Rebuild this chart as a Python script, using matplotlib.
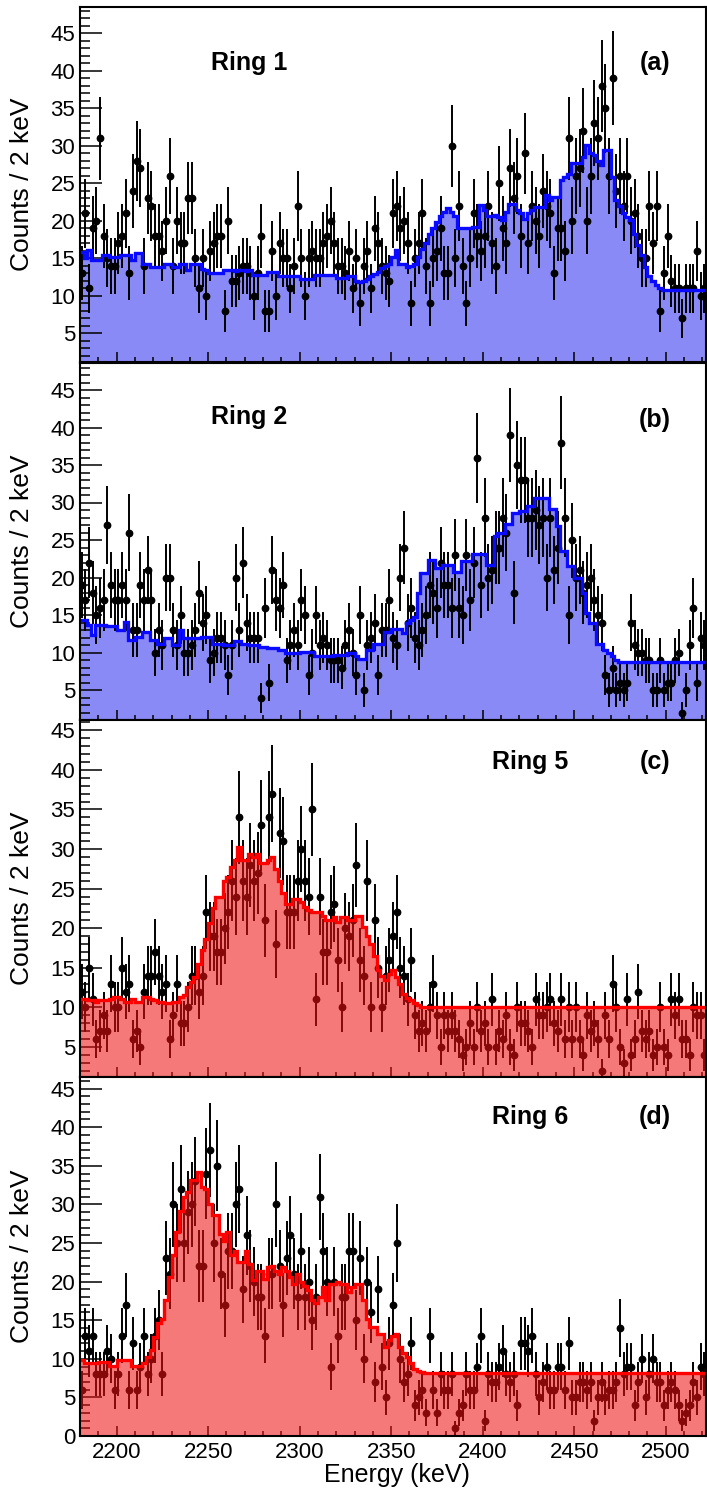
import numpy as np
import matplotlib
matplotlib.use("Agg")
import matplotlib.pyplot as plt
from matplotlib.ticker import MultipleLocator

plt.rcParams['font.family'] = ['Liberation Sans', 'DejaVu Sans']

# 2 keV bins from 2180 keV
edges = np.arange(2180, 2524, 2)
centers = edges[:-1] + 1

ring1_counts = [
    13, 21, 11, 19, 20, 31, 18, 15, 14, 14,
    17, 18, 21, 13, 24, 28, 27, 14, 23, 22,
    18, 18, 16, 20, 26, 14, 20, 17, 17, 23,
    23, 15, 11, 15, 10, 16, 17, 18, 18, 8,
    20, 12, 12, 13, 14, 14, 13, 10, 13, 18,
    8, 8, 16, 10, 17, 15, 15, 11, 14, 22,
    15, 10, 15, 16, 15, 15, 17, 18, 20, 17,
    14, 14, 13, 16, 11, 15, 9, 14, 16, 11,
    19, 17, 14, 13, 12, 21, 22, 19, 20, 17,
    9, 15, 17, 21, 14, 9, 15, 16, 19, 13,
    13, 30, 15, 22, 14, 9, 15, 21, 18, 16,
    18, 22, 17, 14, 25, 19, 17, 27, 23, 26,
    18, 29, 17, 22, 20, 18, 24, 22, 21, 13,
    19, 19, 16, 31, 20, 26, 27, 32, 20, 26,
    33, 31, 38, 35, 26, 39, 24, 26, 22, 26,
    20, 21, 18, 15, 15, 22, 17, 22, 8, 13,
    18, 12, 11, 11, 7, 11, 11, 11, 16, 10, 11]
ring1_fit = [
    15.9, 15.0, 16.1, 14.8, 14.8, 14.8, 15.4, 15.4, 15.2, 15.2,
    15.2, 15.4, 15.4, 15.4, 14.8, 15.7, 15.7, 14.3, 14.3, 13.9,
    13.9, 13.9, 13.9, 14.3, 14.3, 13.9, 13.9, 14.3, 14.3, 13.4,
    14.3, 14.3, 14.3, 13.6, 13.4, 13.0, 13.0, 13.0, 13.0, 13.4,
    13.4, 13.4, 13.3, 13.4, 13.4, 13.3, 13.4, 12.8, 12.8, 12.8,
    12.8, 13.2, 13.2, 13.2, 12.6, 12.6, 12.6, 12.6, 12.6, 12.6,
    12.3, 12.3, 12.3, 12.3, 12.8, 12.8, 12.8, 12.8, 12.8, 12.8,
    12.4, 12.4, 12.4, 12.6, 12.6, 12.0, 11.9, 12.0, 12.2, 12.6,
    12.9, 13.2, 13.7, 14.0, 14.3, 15.2, 16.1, 14.3, 14.3, 13.9,
    14.0, 14.3, 15.2, 16.2, 17.0, 18.3, 19.1, 19.9, 20.6, 21.2,
    21.7, 21.2, 20.6, 19.0, 19.0, 19.0, 19.0, 19.2, 19.2, 22.1,
    21.5, 20.6, 20.6, 20.8, 20.5, 20.1, 21.2, 22.3, 22.3, 21.4,
    21.0, 20.3, 21.0, 21.4, 21.9, 21.9, 21.9, 23.4, 22.8, 23.2,
    23.2, 25.4, 25.8, 26.3, 27.7, 27.7, 27.7, 28.5, 30.1, 29.0,
    28.8, 28.0, 27.4, 29.4, 29.4, 25.9, 22.8, 22.0, 21.0, 20.5,
    20.1, 18.3, 16.8, 15.4, 13.9, 12.6, 12.0, 11.4, 11.0, 10.8,
    10.8, 10.8, 10.8, 10.8, 10.8, 10.8, 10.8, 10.8, 10.8, 10.8, 10.8]

ring2_counts = [
    19, 17, 22, 18, 15, 16, 17, 27, 19, 17,
    17, 19, 17, 26, 13, 13, 19, 17, 21, 17,
    10, 13, 11, 20, 20, 13, 11, 15, 10, 10,
    11, 13, 18, 14, 15, 9, 10, 12, 12, 11,
    7, 11, 20, 13, 22, 14, 12, 12, 12, 4,
    16, 6, 21, 17, 16, 19, 9, 11, 13, 11,
    17, 15, 7, 10, 15, 11, 12, 11, 9, 9,
    9, 8, 11, 13, 10, 7, 15, 5, 11, 12,
    14, 7, 13, 13, 17, 12, 11, 20, 24, 14,
    16, 12, 11, 13, 15, 19, 18, 16, 22, 19,
    19, 16, 23, 16, 15, 23, 17, 22, 36, 19,
    28, 20, 21, 24, 24, 28, 26, 39, 18, 35,
    33, 33, 28, 28, 29, 27, 28, 20, 28, 21,
    24, 38, 28, 15, 25, 20, 21, 18, 19, 20,
    17, 15, 14, 7, 5, 8, 5, 6, 5, 6,
    14, 11, 10, 10, 9, 9, 5, 5, 9, 5,
    6, 6, 9, 10, 2, 5, 11, 16, 6, 12, 11]
ring2_fit = [
    14.4, 14.4, 13.7, 12.4, 13.7, 13.7, 13.7, 13.5, 13.5, 13.5,
    13.0, 13.0, 14.1, 11.7, 11.7, 12.1, 12.1, 12.8, 12.8, 11.7,
    11.7, 11.2, 11.2, 11.9, 11.9, 11.0, 11.0, 13.0, 11.9, 11.9,
    11.9, 11.9, 11.9, 12.1, 12.1, 12.1, 11.2, 11.2, 11.2, 11.0,
    11.0, 11.0, 11.5, 11.5, 11.2, 11.2, 11.0, 11.0, 11.0, 10.8,
    10.8, 10.6, 10.6, 10.6, 10.4, 10.4, 9.9, 9.9, 9.9, 9.9,
    10.1, 10.1, 10.1, 10.1, 9.5, 9.5, 9.5, 9.5, 9.5, 9.7,
    9.7, 9.7, 9.7, 9.9, 9.9, 9.5, 9.2, 9.2, 10.4, 10.4,
    11.2, 11.2, 11.2, 12.8, 12.8, 13.2, 13.2, 13.2, 12.6, 13.9,
    14.3, 14.8, 17.9, 20.6, 20.6, 22.4, 22.4, 21.3, 21.3, 21.7,
    21.7, 21.7, 20.8, 20.8, 22.2, 22.2, 22.2, 23.1, 23.1, 23.1,
    23.1, 21.7, 21.7, 25.5, 26.0, 26.0, 27.1, 27.1, 28.6, 28.6,
    28.9, 28.9, 29.5, 29.5, 30.6, 30.6, 30.6, 30.6, 29.1, 29.1,
    26.9, 23.5, 23.5, 21.5, 21.5, 19.9, 19.9, 17.9, 15.3, 13.9,
    13.9, 11.2, 11.2, 10.4, 10.0, 9.5, 9.0, 8.8, 8.8, 8.8,
    8.8, 8.8, 8.8, 8.8, 8.8, 8.8, 8.8, 8.8, 8.8, 8.8,
    8.8, 8.8, 8.8, 8.8, 8.8, 8.8, 8.8, 8.8, 8.8, 8.8, 8.8]

ring5_counts = [
    12, 10, 15, 11, 6, 7, 9, 7, 13, 10,
    10, 15, 12, 13, 6, 7, 5, 12, 14, 14,
    17, 14, 12, 13, 6, 9, 13, 8, 8, 10,
    14, 14, 12, 14, 22, 19, 19, 17, 17, 20,
    22, 26, 24, 34, 26, 24, 28, 26, 27, 33,
    21, 34, 37, 18, 32, 31, 22, 22, 22, 26,
    30, 26, 24, 35, 11, 24, 17, 17, 22, 23,
    16, 10, 20, 19, 21, 28, 16, 14, 26, 10,
    21, 15, 10, 14, 16, 19, 22, 15, 14, 11,
    16, 9, 7, 8, 7, 10, 13, 9, 5, 9,
    7, 9, 7, 6, 4, 5, 8, 5, 10, 7,
    8, 5, 11, 5, 7, 6, 9, 5, 4, 10,
    8, 8, 7, 5, 11, 9, 9, 10, 11, 8,
    7, 11, 6, 10, 6, 10, 6, 4, 9, 7,
    8, 6, 2, 9, 6, 13, 10, 5, 3, 11,
    4, 6, 12, 7, 6, 7, 4, 5, 10, 5,
    4, 11, 9, 11, 6, 6, 4, 10, 9, 9, 4]
ring5_fit = [
    11.1, 11.0, 10.9, 10.9, 10.7, 10.9, 10.9, 10.9, 11.1, 11.3,
    11.3, 11.0, 10.7, 10.7, 11.0, 10.7, 10.7, 11.3, 11.3, 11.1,
    10.9, 10.7, 10.7, 10.5, 10.5, 10.7, 10.7, 11.3, 11.6, 12.6,
    13.2, 13.8, 15.5, 17.2, 18.6, 20.6, 22.5, 24.0, 24.0, 26.0,
    26.5, 27.7, 28.6, 30.3, 28.6, 28.6, 29.4, 29.0, 29.4, 28.2,
    28.2, 28.6, 29.0, 27.5, 26.0, 24.5, 23.1, 23.1, 23.7, 23.7,
    23.3, 22.7, 22.3, 22.0, 22.0, 22.0, 21.5, 21.0, 21.0, 21.4,
    20.8, 21.4, 21.4, 21.0, 21.0, 21.6, 21.6, 20.2, 19.0, 18.0,
    16.5, 14.7, 14.0, 13.4, 14.2, 14.7, 13.8, 13.0, 11.7, 11.2,
    10.9, 10.5, 10.3, 10.1, 10.0, 10.0, 10.0, 10.0, 10.0, 10.0,
    10.0, 10.0, 10.0, 10.0, 10.0, 10.0, 10.0, 10.0, 10.0, 10.0,
    10.0, 10.0, 10.0, 10.0, 10.0, 10.0, 10.0, 10.0, 10.0, 10.0,
    10.0, 10.0, 10.0, 10.0, 10.0, 10.0, 10.0, 10.0, 10.0, 10.0,
    10.0, 10.0, 10.0, 10.0, 10.0, 10.0, 10.0, 10.0, 10.0, 10.0,
    10.0, 10.0, 10.0, 10.0, 10.0, 10.0, 10.0, 10.0, 10.0, 10.0,
    10.0, 10.0, 10.0, 10.0, 10.0, 10.0, 10.0, 10.0, 10.0, 10.0,
    10.0, 10.0, 10.0, 10.0, 10.0, 10.0, 10.0, 10.0, 10.0, 10.0, 10.0]

ring6_counts = [
    6, 13, 11, 13, 8, 8, 8, 11, 10, 6,
    8, 13, 17, 6, 12, 6, 9, 13, 8, 10,
    13, 15, 8, 23, 21, 30, 25, 32, 25, 29,
    30, 33, 22, 22, 34, 37, 25, 35, 21, 17,
    24, 24, 30, 32, 19, 26, 22, 20, 18, 18,
    13, 21, 21, 30, 22, 17, 23, 26, 21, 18,
    24, 18, 20, 15, 18, 31, 24, 20, 9, 20,
    13, 18, 18, 24, 24, 15, 23, 10, 20, 16,
    7, 19, 9, 5, 12, 17, 25, 10, 7, 8,
    12, 4, 5, 6, 3, 13, 6, 3, 8, 6,
    6, 8, 1, 3, 4, 8, 6, 6, 9, 13,
    2, 8, 7, 7, 9, 11, 8, 7, 8, 4,
    12, 12, 11, 13, 8, 5, 7, 9, 6, 6,
    9, 9, 6, 12, 5, 5, 7, 7, 6, 7,
    2, 5, 7, 5, 6, 6, 7, 14, 8, 9,
    9, 4, 7, 10, 5, 8, 10, 7, 7, 4,
    6, 7, 6, 4, 2, 3, 4, 7, 5, 9, 8]
ring6_fit = [
    9.8, 9.4, 9.4, 9.4, 9.4, 9.6, 9.6, 9.6, 9.1, 9.1,
    9.8, 9.8, 9.8, 9.8, 9.1, 9.1, 9.1, 9.4, 10.2, 11.1,
    12.8, 14.6, 15.2, 17.6, 20.6, 23.4, 26.4, 29.2, 31.0, 31.6,
    33.1, 33.1, 34.2, 32.2, 32.0, 30.0, 28.6, 28.6, 26.2, 25.3,
    26.4, 23.4, 24.0, 22.5, 22.5, 24.0, 22.3, 20.2, 21.4, 21.4,
    20.4, 21.9, 22.0, 21.4, 21.0, 21.9, 21.4, 20.6, 19.7, 21.0,
    20.0, 19.4, 18.9, 17.6, 17.2, 18.0, 19.3, 17.6, 19.7, 19.7,
    19.9, 19.7, 19.7, 18.6, 19.3, 19.7, 19.7, 17.6, 15.2, 14.1,
    14.1, 13.2, 13.2, 11.5, 12.4, 12.9, 13.2, 11.5, 10.7, 10.2,
    9.4, 8.7, 8.4, 8.3, 8.2, 8.2, 8.2, 8.2, 8.2, 8.2,
    8.2, 8.2, 8.2, 8.2, 8.2, 8.2, 8.2, 8.2, 8.2, 8.2,
    8.2, 8.2, 8.2, 8.2, 8.2, 8.2, 8.2, 8.2, 8.2, 8.2,
    8.2, 8.2, 8.2, 8.2, 8.2, 8.2, 8.2, 8.2, 8.2, 8.2,
    8.2, 8.2, 8.2, 8.2, 8.2, 8.2, 8.2, 8.2, 8.2, 8.2,
    8.2, 8.2, 8.2, 8.2, 8.2, 8.2, 8.2, 8.2, 8.2, 8.2,
    8.2, 8.2, 8.2, 8.2, 8.2, 8.2, 8.2, 8.2, 8.2, 8.2,
    8.2, 8.2, 8.2, 8.2, 8.2, 8.2, 8.2, 8.2, 8.2, 8.2, 8.2]

ring_names = ['Ring 1', 'Ring 2', 'Ring 5', 'Ring 6']
tags = ['(a)', '(b)', '(c)', '(d)']
y_ranges = [(1.2, 48.5), (1.0, 48.6), (1.2, 46.3), (0.0, 46.5)]

W, H = 707, 1491
fig = plt.figure(figsize=(W / 100, H / 100), dpi=100, facecolor='white')

# pad frames in pixels: (top, bottom)
frames = [(7, 362), (363, 720), (720, 1077), (1077, 1436)]
name_pos = [(0.27, 0.842), (0.27, 0.849), (0.719, 0.882), (0.719, 0.889)]
tag_pos = [(0.918, 0.842), (0.918, 0.840), (0.918, 0.882), (0.918, 0.889)]

data = [(ring1_counts, ring1_fit), (ring2_counts, ring2_fit),
        (ring5_counts, ring5_fit), (ring6_counts, ring6_fit)]

x0 = 80
for k in range(4):
    top, bot = frames[k]
    ax = fig.add_axes([x0 / W, 1 - bot / H, (W - 1 - x0) / W, (bot - top) / H])
    counts, fit = data[k]
    ylo, yhi = y_ranges[k]
    red = k >= 2
    lcol = '#ff0000' if red else '#0a0aff'

    # shaded area under the fit; for rings 5 and 6 it sits over the points
    if red:
        ax.stairs(fit, edges, baseline=-5, fill=True, facecolor='#f01010',
                  alpha=0.56, edgecolor='none', zorder=2.5)
    else:
        ax.stairs(fit, edges, baseline=-5, fill=True, facecolor='#2020f0',
                  alpha=0.52, edgecolor='none', zorder=1)

    y = np.array(counts, dtype=float)
    ax.errorbar(centers, y, yerr=np.sqrt(y), fmt='o', color='black', ms=4.6,
                elinewidth=1.4, capsize=0, zorder=2)
    ax.stairs(fit, edges, baseline=None, color=lcol, lw=2.4, zorder=3)

    ax.set_xlim(edges[0], edges[-1])
    ax.set_ylim(ylo, yhi)
    ax.xaxis.set_major_locator(MultipleLocator(50))
    ax.xaxis.set_minor_locator(MultipleLocator(10))
    ax.yaxis.set_major_locator(MultipleLocator(5))
    ax.yaxis.set_minor_locator(MultipleLocator(1))
    ax.tick_params(which='both', direction='in', top=False, right=False,
                   width=1.1, labelsize=16)
    ax.xaxis.set_tick_params(which='major', length=7, pad=4.5)
    ax.xaxis.set_tick_params(which='minor', length=3.5)
    ax.yaxis.set_tick_params(which='major', length=15.5, pad=3.5)
    ax.yaxis.set_tick_params(which='minor', length=7.5)
    if k < 3:
        ax.tick_params(labelbottom=False)
    for s in ax.spines.values():
        s.set_linewidth(1.5)
        s.set_zorder(4)

    ax.text(name_pos[k][0], name_pos[k][1], ring_names[k], transform=ax.transAxes,
            ha='center', va='center', fontsize=18, fontweight='bold')
    ax.text(tag_pos[k][0], tag_pos[k][1], tags[k], transform=ax.transAxes,
            ha='center', va='center', fontsize=18, fontweight='bold')

    fig.text(22 / W, 1 - (top + bot) / 2 / H, 'Counts / 2 keV', rotation=90,
             ha='center', va='center', fontsize=19)

fig.text(397 / W, 1 - 1475 / H, 'Energy (keV)', ha='center', va='center', fontsize=18)

fig.savefig('out.png', dpi=100)
